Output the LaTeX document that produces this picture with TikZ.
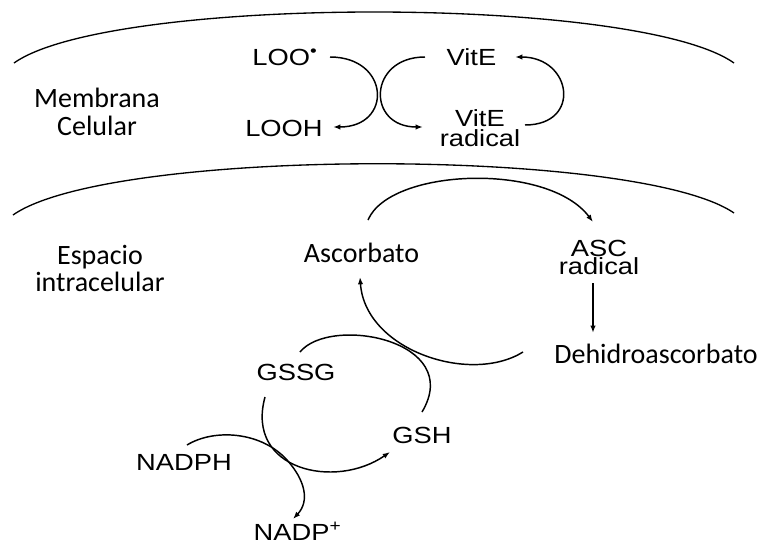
\documentclass[tikz,border=0pt]{standalone}
\usepackage{fontspec}
\usetikzlibrary{arrows.meta,calc}
\newfontfamily\arialf[FakeStretch=1.17]{Liberation Sans}
\newfontfamily\calf{Carlito}
\begin{document}
\lineskiplimit=-20pt
\lineskip=0pt
\begin{tikzpicture}[x=0.75pt,y=-0.75pt,
  ar/.style={font=\arialf\fontsize{17.5pt}{14.5pt}\selectfont, inner sep=0pt, align=center, anchor=base},
  arsmall/.style={ar, font=\arialf\fontsize{17.5pt}{13.5pt}\selectfont},
  ca/.style={font=\calf\fontsize{21pt}{21pt}\selectfont, inner sep=0pt, align=center, anchor=base},
  membline/.style={line width=1pt},
  conn/.style={line width=1.1pt},
  arr/.style={conn, -{Latex[length=5.5pt,width=4pt]}}]
\useasboundingbox (0,0) rectangle (764,546);

% membranes
\draw[membline] (14,63) .. controls (110,-5) and (638,-5) .. (734,63);
\draw[membline] (13,215) .. controls (110,147) and (638,147) .. (734,213);

% region labels (base = last line)
\node[ca] (memb) at (97,135) {Membrana\\Celular};
\node[ca, font=\calf\fontsize{21pt}{20pt}\selectfont] (esp) at (100,291) {Espacio\\intracelular};

% membrane species
\node[ar] (loo) at (285,65) {LOO\textsuperscript{•}};
\node[ar] (looh) at (284,136) {LOOH};
\node[ar] (vite) at (471.5,65) {VitE};
\node[ar] (vitr) at (480,146) {VitE\\radical};

% intracellular species
\node[ca] (asc) at (361.5,262) {Ascorbato};
\node[arsmall] (ascr) at (599,274) {ASC\\radical};
\node[ca] (dha) at (656,363) {Dehidroascorbato};
\node[ar] (gssg) at (296,380) {GSSG};
\node[ar] (gsh) at (422,443) {GSH};
\node[ar] (nadph) at (184,470) {NADPH};
\node[ar] (nadp) at (297.5,540) {NADP\textsuperscript{+}};

% membrane reactions
\draw[arr] ($(loo.base)+(45,-8)$) .. controls +(60,0) and +(60,0) .. ($(looh.base)+(49,-9)$);
\draw[arr] ($(vite.base)+(-46.5,-8)$) .. controls +(-57,0) and +(-57,0) .. ($(vitr.base)+(-57,-19)$);
\draw[arr] ($(vitr.base)+(45,-21)$) .. controls +(57,0) and +(57,0) .. ($(vite.base)+(43.5,-8)$);

% ascorbate cycle
\draw[arr] ($(asc.base)+(6.5,-42)$) .. controls +(22,-52) and +(-45,-60) .. ($(ascr.base)+(-6,-52)$);
\draw[arr] ($(ascr.base)+(-6,9)$) -- ($(dha.base)+(-63,-30)$);
\draw[arr] ($(dha.base)+(-133,-11)$) .. controls +(-53,33) and +(5,73) .. ($(asc.base)+(-1.5,15)$);

% glutathione cycle
\draw[conn] ($(gssg.base)+(4,-28)$) .. controls +(30,-37) and +(43,-72) .. ($(gsh.base)+(0,-31)$);
\draw[arr] ($(gssg.base)+(-31,17)$) .. controls +(-20,73) and +(-55,38) .. ($(gsh.base)+(-32,9)$);

% NADPH
\draw[arr] ($(nadph.base)+(3,-25)$) .. controls +(28,-17) and +(-25,-28) .. ++(100,15)
  .. controls +(18,20) and +(17,-18) .. ($(nadp.base)+(-4.5,-21)$);
\end{tikzpicture}
\end{document}
